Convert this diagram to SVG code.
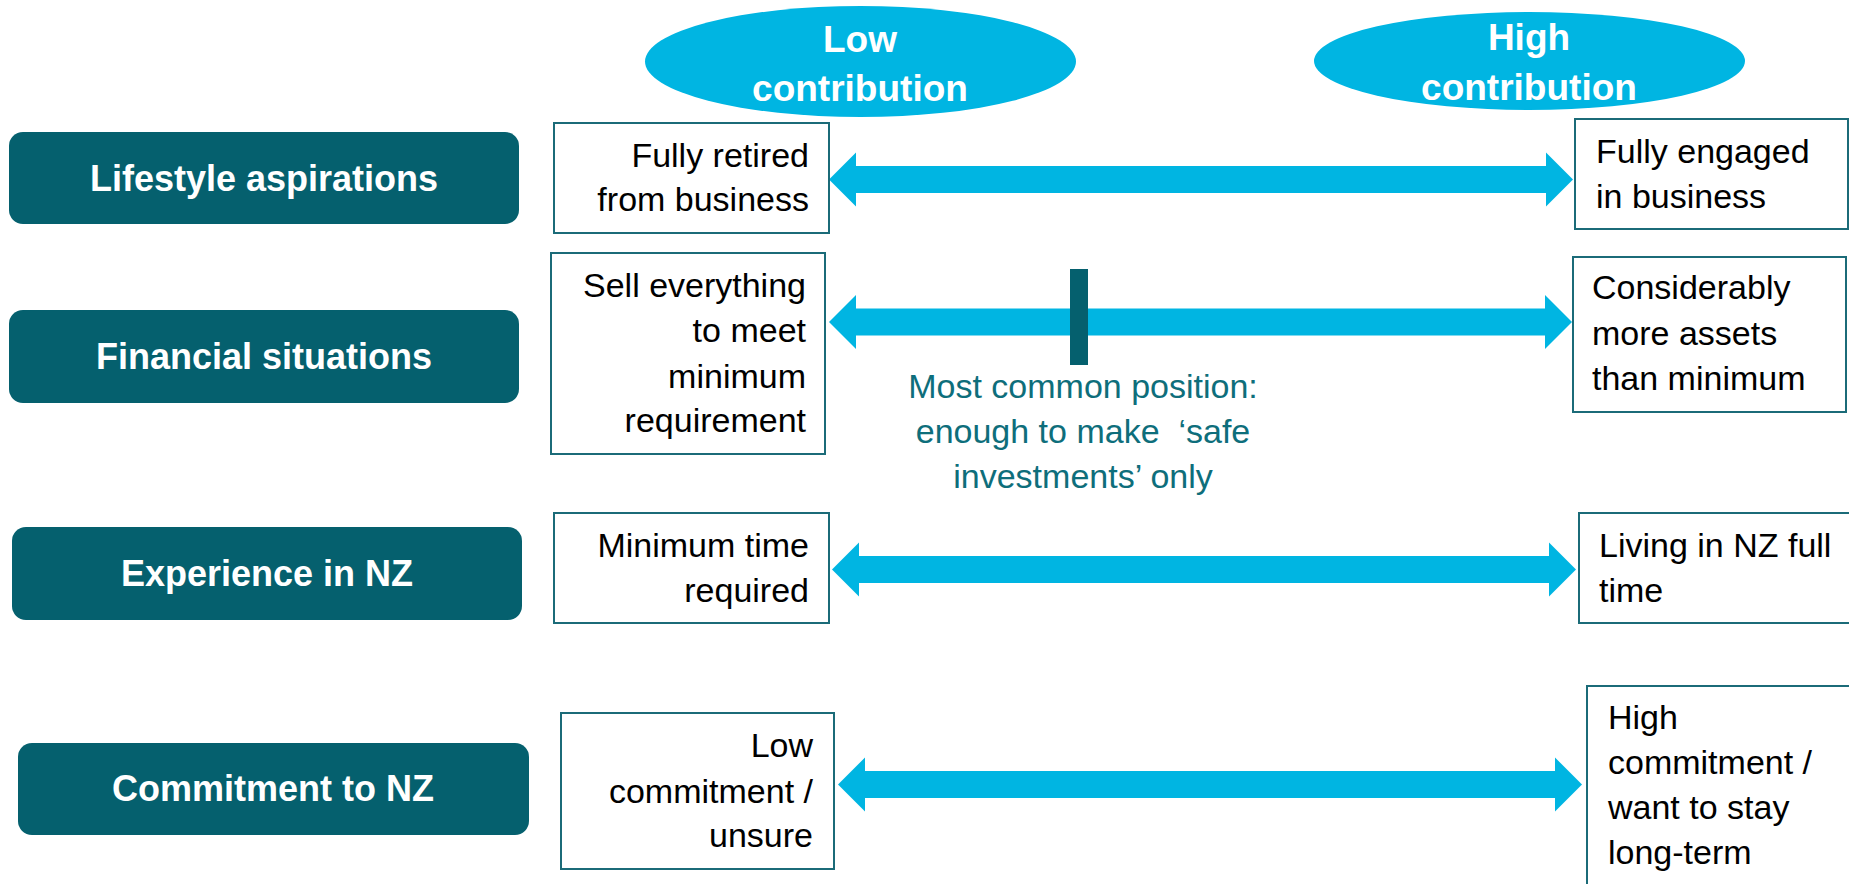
<svg xmlns="http://www.w3.org/2000/svg" width="1849" height="884" viewBox="0 0 1849 884">
<style>
.lbl rect{fill:#05606E;}
.lbl text{fill:#fff;font-family:"Liberation Sans",Arial,sans-serif;font-weight:bold;font-size:36px;text-anchor:middle;}
.pill ellipse{fill:#00B5E2;}
.pill text{fill:#fff;font-family:"Liberation Sans",Arial,sans-serif;font-weight:bold;font-size:37px;text-anchor:middle;}
.box rect{fill:#fff;stroke:#1B6B78;stroke-width:2;}
.box text{fill:#000;font-family:"Liberation Sans",Arial,sans-serif;font-size:34px;}
.box.l text{text-anchor:end;}
.box.r text{text-anchor:start;}
.arr{fill:#00B5E2;}
.cap{fill:#0E6E7B;font-family:"Liberation Sans",Arial,sans-serif;font-size:34px;text-anchor:middle;}
</style>
<rect width="1849" height="884" fill="#fff"/>

<g id="ellipse-low" class="pill">
<ellipse cx="860.5" cy="61.5" rx="215.5" ry="55.5"/>
<text x="860" y="52">Low</text>
<text x="860" y="101">contribution</text>
</g>
<g id="ellipse-high" class="pill">
<ellipse cx="1529.5" cy="61" rx="215.5" ry="49"/>
<text x="1529" y="50">High</text>
<text x="1529" y="100">contribution</text>
</g>

<g id="label-lifestyle" class="lbl">
<rect x="9" y="132" width="510" height="92" rx="14"/>
<text x="264" y="191">Lifestyle aspirations</text>
</g>
<g id="label-financial" class="lbl">
<rect x="9" y="310" width="510" height="93" rx="14"/>
<text x="264" y="369">Financial situations</text>
</g>
<g id="label-experience" class="lbl">
<rect x="12" y="527" width="510" height="93" rx="14"/>
<text x="267" y="586">Experience in NZ</text>
</g>
<g id="label-commitment" class="lbl">
<rect x="18" y="743" width="511" height="92" rx="14"/>
<text x="273" y="801">Commitment to NZ</text>
</g>

<g id="connectors">
<polygon class="arr" points="829,179.5 856,152.5 856,166 1546,166 1546,152.5 1573,179.5 1546,206.5 1546,193 856,193 856,206.5"/>
<polygon class="arr" points="829,322 856,295 856,308.5 1545,308.5 1545,295 1572,322 1545,349 1545,335.5 856,335.5 856,349"/>
<polygon class="arr" points="832,569.5 859,542.5 859,556 1549,556 1549,542.5 1576,569.5 1549,596.5 1549,583 859,583 859,596.5"/>
<polygon class="arr" points="838,784.5 865,757.5 865,771 1555,771 1555,757.5 1582,784.5 1555,811.5 1555,798 865,798 865,811.5"/>
</g>

<g id="marker-common">
<rect x="1070" y="269" width="18" height="96" fill="#05606E"/>
<text class="cap" x="1083" y="398">Most common position:</text>
<text class="cap" x="1083" y="443">enough to make&#160; ‘safe</text>
<text class="cap" x="1083" y="488">investments’ only</text>
</g>

<g id="box-retired" class="box l">
<rect x="554" y="123" width="275" height="110"/>
<text x="809" y="167">Fully retired</text>
<text x="809" y="211">from business</text>
</g>
<g id="box-sell" class="box l">
<rect x="551" y="253" width="274" height="201"/>
<text x="806" y="297">Sell everything</text>
<text x="806" y="342">to meet</text>
<text x="806" y="388">minimum</text>
<text x="806" y="432">requirement</text>
</g>
<g id="box-mintime" class="box l">
<rect x="554" y="513" width="275" height="110"/>
<text x="809" y="557">Minimum time</text>
<text x="809" y="602">required</text>
</g>
<g id="box-lowcommit" class="box l">
<rect x="561" y="713" width="273" height="156"/>
<text x="813" y="757">Low</text>
<text x="813" y="803">commitment /</text>
<text x="813" y="847">unsure</text>
</g>

<g id="box-engaged" class="box r">
<rect x="1575" y="119" width="273" height="110"/>
<text x="1596" y="163">Fully engaged</text>
<text x="1596" y="208">in business</text>
</g>
<g id="box-assets" class="box r">
<rect x="1573" y="257" width="273" height="155"/>
<text x="1592" y="299">Considerably</text>
<text x="1592" y="345">more assets</text>
<text x="1592" y="390">than minimum</text>
</g>
<g id="box-living" class="box r">
<rect x="1579" y="513" width="280" height="110"/>
<text x="1599" y="557">Living in NZ full</text>
<text x="1599" y="602">time</text>
</g>
<g id="box-highcommit" class="box r">
<rect x="1587" y="686" width="280" height="220"/>
<text x="1608" y="729">High</text>
<text x="1608" y="774">commitment /</text>
<text x="1608" y="819">want to stay</text>
<text x="1608" y="864">long-term</text>
</g>
</svg>
